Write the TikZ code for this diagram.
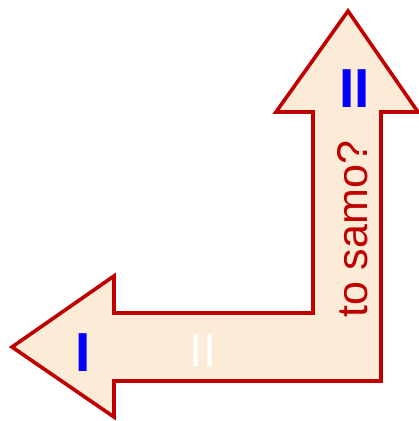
\documentclass[tikz,border=0pt]{standalone}
\usepackage{fontspec}
\setmainfont{Liberation Sans}
\usetikzlibrary{positioning}
\definecolor{arrowred}{RGB}{192,0,0}
\definecolor{arrowfill}{RGB}{251,235,215}
\definecolor{numblue}{RGB}{0,0,255}
\begin{document}
\begin{tikzpicture}[
  x=1pt, y=-1pt,
  arrowshape/.style={draw=arrowred, fill=arrowfill, line width=3.6pt, line join=miter},
  bignum/.style={font=\fontsize{55}{55}\selectfont\bfseries, text=numblue, inner sep=0pt},
  smallnum/.style={font=\fontsize{47}{47}\selectfont, text=white, inner sep=0pt},
  question/.style={font=\fontsize{43}{43}\selectfont, text=arrowred, inner sep=0pt},
]
\useasboundingbox (0,0) rectangle (419,421);

% === L-shaped double arrow ===
\draw[arrowshape] (348,11) -- (418,112) -- (381,112) -- (381,381)
  -- (114,381) -- (114,417) -- (12,347) -- (114,276) -- (114,313)
  -- (313,313) -- (313,112) -- (276,112) -- cycle;

% === Labels ===
\node[bignum, anchor=base] (one) at (83.5,371) {I};
\node[smallnum, anchor=base] (twoleft) at (203,366) {II};
\node[bignum, anchor=base] (twoup) at (354.5,107) {II};
\node[question, rotate=90, anchor=base west] (same) at (367,318) {to samo?};

\end{tikzpicture}
\end{document}
